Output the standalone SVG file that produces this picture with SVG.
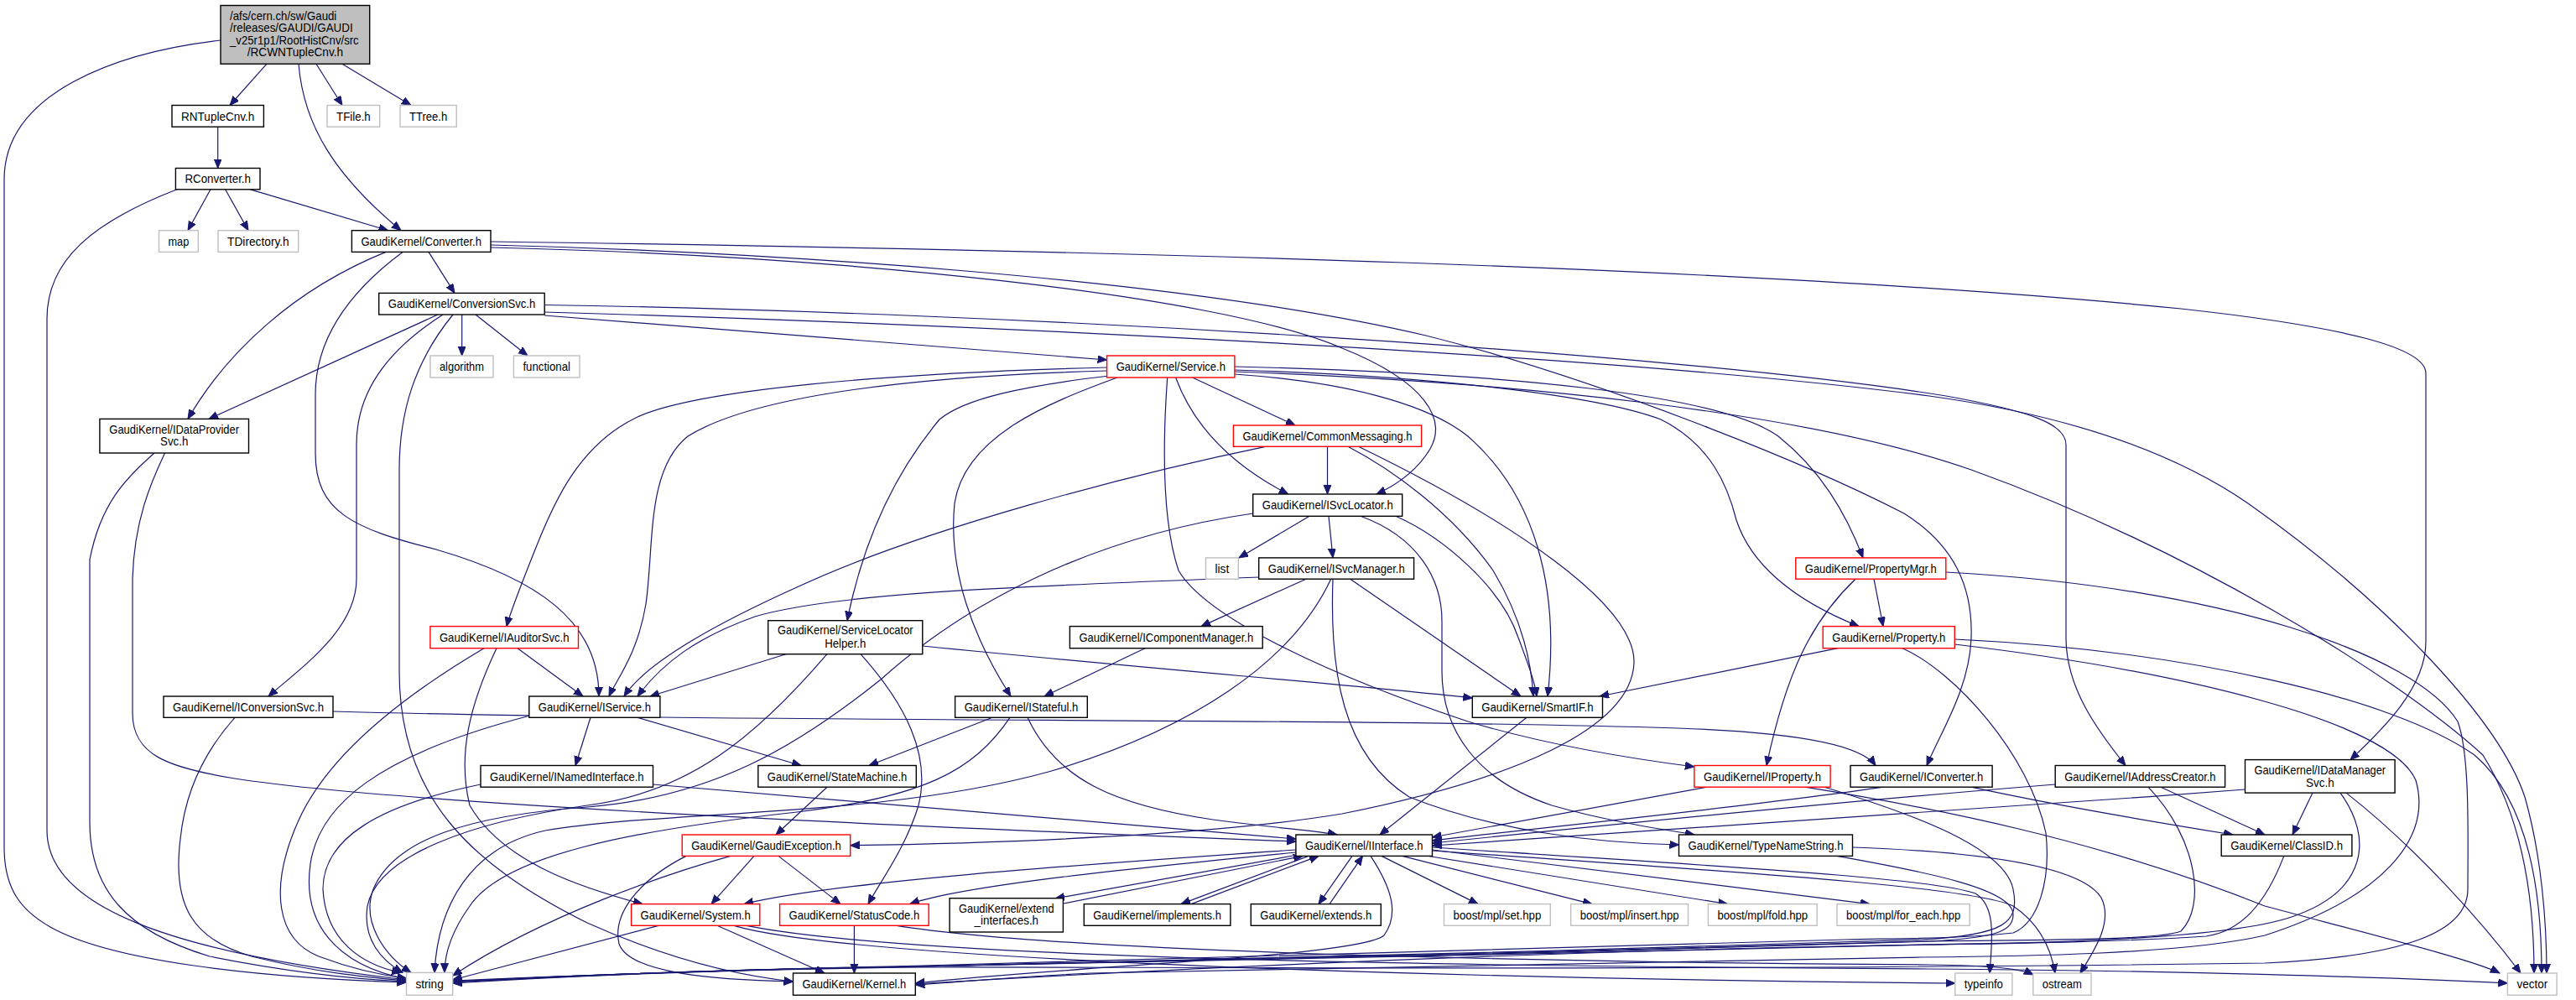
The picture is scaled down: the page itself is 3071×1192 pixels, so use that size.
<svg xmlns="http://www.w3.org/2000/svg" width="3071" height="1192" viewBox="0 0 3071 1192">
<style>
.node rect{fill:#fff;stroke:#000;stroke-width:1.4}
.sys rect{stroke:#bfbfbf}
.red rect{stroke:#f00}
.root rect{fill:#bfbfbf}
text{font-family:"Liberation Sans",Arial,Helvetica,sans-serif;font-size:15px;fill:#000;text-anchor:middle}
text.l{text-anchor:start}
#edges path{fill:none;stroke:#191970;stroke-width:1.2;marker-end:url(#ah)}
</style>
<defs>
<marker id="ah" markerUnits="userSpaceOnUse" markerWidth="12" markerHeight="10" refX="11" refY="4.5" orient="auto"><path d="M0,0 L11,4.5 L0,9 z" fill="#191970" stroke="#191970" stroke-width="1"/></marker>
</defs>
<rect x="0" y="0" width="3071" height="1192" fill="#fff"/>
<g id="edges">
<path d="M263,48 C140,62 5,110 5,214 L5,1010 C5,1060 25,1085 60,1105 C130,1145 300,1165 484.5,1171"/>
<path d="M318,76.2 L274,125.5"/>
<path d="M356,76.2 C362,150 400,210 478,274.7"/>
<path d="M377,76.2 L408,125.5"/>
<path d="M408,76.2 L490,125.5"/>
<path d="M259.7,151.2 L259.7,200.5"/>
<path d="M211,225.8 C110,265 56,310 56,380 L56,990 C56,1080 200,1135 484.5,1168"/>
<path d="M251,225.8 L224,274.7"/>
<path d="M268.6,225.8 L296,274.7"/>
<path d="M298.5,225.8 L462.6,274.7"/>
<path d="M511,300.4 L542,349.4"/>
<path d="M460,300.4 C350,345 270,420 224,499.4"/>
<path d="M480,300.4 C420,345 376,400 376,470 L376,540 C376,610 420,630 520,655 C640,690 714,740 714,830"/>
<path d="M522,375 L249,499.4"/>
<path d="M550.7,375 L550.7,424"/>
<path d="M567,375 L629,424"/>
<path d="M528,375 C458,420 425,470 425,530 L425,690 C425,750 360,795 320,830"/>
<path d="M540,375 C495,430 476,490 476,560 L476,800 C476,950 560,1030 700,1100 C800,1145 880,1163 945.5,1170"/>
<path d="M649.2,363.5 C1200,372 2000,420 2320,472 C2420,490 2463,505 2463,530 L2463,760 C2463,820 2500,870 2534,912.5"/>
<path d="M585,292 C900,300 1400,330 1700,400 C1900,450 2150,550 2270,612 C2330,650 2352,700 2350,760 C2348,820 2315,870 2297,912.5"/>
<path d="M649.2,372 C1100,385 1900,420 2300,472 C2480,497 2600,545 2680,600 C2850,720 2980,860 3010,950 C3030,1020 3036,1100 3036,1160"/>
<path d="M585,288 C1300,298 2100,318 2600,368 C2800,390 2892,415 2892,445 L2892,765 C2892,820 2840,870 2802,905.6"/>
<path d="M585,295 C1000,305 1450,350 1600,415 C1700,455 1725,500 1705,535 C1690,560 1665,578 1641,589"/>
<path d="M649.2,376 L1319.6,429"/>
<path d="M1319.6,438 C1050,445 830,465 760,497 C690,530 660,600 640,650 C620,700 608,730 604,746.6"/>
<path d="M1319.6,442 C1100,448 900,470 820,520 C770,560 780,650 770,720 C760,780 735,810 726,830"/>
<path d="M1322,448 C1220,460 1150,475 1120,500 C1070,560 1030,640 1010,739.7"/>
<path d="M1332,450 C1250,480 1150,520 1138,600 C1130,680 1160,760 1205,830"/>
<path d="M1391.7,450 C1386,530 1385,620 1405,680 C1440,740 1600,810 1750,860 C1850,890 1950,905 2019.9,914"/>
<path d="M1421.6,450 L1544,507"/>
<path d="M1401.6,450 C1420,500 1460,550 1535.7,589"/>
<path d="M1471.9,446 C1600,455 1700,480 1750,520 C1830,590 1860,700 1845,830"/>
<path d="M1471.9,437 C1800,445 2050,470 2120,520 C2170,560 2200,610 2221,664.9"/>
<path d="M1471.9,441 C1700,448 1900,470 1980,500 C2040,530 2060,580 2070,620 C2090,680 2150,720 2216,746.6"/>
<path d="M1471.9,443 C1800,455 2150,490 2350,560 C2600,650 2850,800 2960,900 C3010,980 3021,1080 3021,1160"/>
<path d="M1582.5,532.3 L1582.5,589"/>
<path d="M1508.7,532.3 C1350,565 1100,630 950,700 C850,745 770,790 744,830"/>
<path d="M1607,532.3 C1660,560 1730,610 1780,680 C1810,730 1825,780 1828,830"/>
<path d="M1619.5,532.3 C1800,620 1950,720 1948,790 C1945,870 1800,930 1600,970 C1450,995 1200,1005 1013.7,1007.7"/>
<path d="M1561,615.3 L1477,664.9"/>
<path d="M1584,615.3 L1589,664.9"/>
<path d="M1664,615.3 C1720,640 1790,700 1810,760 C1825,800 1830,815 1832,830"/>
<path d="M1622,615.3 C1690,640 1719,690 1719,740 L1719,800 C1719,870 1760,930 1850,960 C1920,980 1980,988 2020,995"/>
<path d="M1493.7,612 C1300,640 1150,720 1050,810 C950,890 850,950 700,962 C560,972 470,1000 445,1060 C430,1100 460,1140 490,1159.4"/>
<path d="M1557,690.2 L1432,746.6"/>
<path d="M1500.7,688 C1250,698 1000,705 900,735 C830,760 790,790 760,830"/>
<path d="M1586.7,690.2 C1540,790 1420,870 1250,920 C1050,975 800,965 650,990 C560,1010 522,1080 518,1159.4"/>
<path d="M1589,690.2 C1585,800 1600,900 1680,950 C1780,990 1900,1005 2001.5,1007"/>
<path d="M1609.7,690.2 L1813,830"/>
<path d="M1365,772.7 L1245,830"/>
<path d="M1183,855.3 L1036,912.5"/>
<path d="M1204,855.3 C1160,920 1100,950 950,968 C750,990 600,1020 560,1080 C535,1115 530,1140 530,1159.4"/>
<path d="M1225,855.3 C1260,930 1330,960 1446,977 C1520,987 1570,990 1594,995"/>
<path d="M1820,855.3 L1645,995"/>
<path d="M937,779.7 L775,830"/>
<path d="M986,779.7 C900,880 820,945 700,960 C560,980 450,1020 438,1080 C432,1120 455,1145 480,1159.4"/>
<path d="M1026,779.7 C1080,840 1110,900 1095,960 C1080,1010 1050,1050 1035,1077.6"/>
<path d="M1099.8,770 C1400,800 1600,815 1755.3,832"/>
<path d="M617,772.7 L695,830"/>
<path d="M577,772.7 C480,830 390,900 355,980 C320,1060 330,1120 380,1140 C420,1155 450,1162 484.5,1166"/>
<path d="M592,772.7 C560,840 545,900 560,960 C600,1030 700,1060 766,1077.6"/>
<path d="M280,855.3 C240,900 220,950 215,1000 C205,1080 230,1120 300,1140 C380,1160 440,1165 484.5,1169"/>
<path d="M397,848 C900,862 1600,855 2000,868 C2150,873 2220,890 2236,912.5"/>
<path d="M704,855.3 L686,912.5"/>
<path d="M760,855.3 L955,912.5"/>
<path d="M632,853 C450,900 380,960 370,1030 C360,1100 400,1150 484.5,1167"/>
<path d="M573,935 C450,960 385,1000 385,1060 C388,1120 430,1150 478,1159.4"/>
<path d="M778.5,935 C1100,960 1400,990 1544.9,1000"/>
<path d="M184,540 C150,570 120,600 107,667 L107,980 C107,1060 150,1110 250,1140 C350,1160 420,1167 484.5,1170"/>
<path d="M196.5,540 C180,575 160,620 158,690 L158,850 C158,900 200,915 280,928 C500,962 1200,990 1544.9,1003"/>
<path d="M986,938.2 L925,995"/>
<path d="M899,1020.4 L848,1077.6"/>
<path d="M928,1020.4 L1002,1077.6"/>
<path d="M871,1020.4 C800,1040 650,1090 539.7,1163"/>
<path d="M818,1020.4 C760,1050 730,1090 738,1125 C750,1160 850,1168 945.5,1170"/>
<path d="M785,1103.3 L539.7,1168"/>
<path d="M855,1103.3 L983,1160"/>
<path d="M875,1103.3 C1000,1140 1600,1165 2330.8,1172"/>
<path d="M890,1103.3 C1100,1145 1800,1152 2300,1155 C2600,1157 2850,1165 2989.4,1172"/>
<path d="M1018.4,1103.3 L1018.4,1160"/>
<path d="M1069,1103.3 C1300,1140 2000,1148 2300,1150 C2380,1151 2410,1155 2424,1162"/>
<path d="M1544.9,1013 C1300,1030 1000,1050 887,1077.6"/>
<path d="M1544.9,1016 C1350,1035 1150,1055 1084.7,1077.6"/>
<path d="M1547,1019 L1258,1071"/>
<path d="M1268,1077 L1553,1020.4"/>
<path d="M1560,1020.4 L1408,1077.6"/>
<path d="M1420,1077.6 L1572,1020.4"/>
<path d="M1612,1020.4 L1572,1077.6"/>
<path d="M1585,1077.6 L1624.5,1020.4"/>
<path d="M1647,1020.4 L1762,1077.6"/>
<path d="M1671.7,1020.4 L1898,1077.6"/>
<path d="M1700,1020 L2059.5,1077.6"/>
<path d="M1707.5,1013 L2229,1077.6"/>
<path d="M1707.5,1010 C2000,1030 2300,1045 2355,1065 C2380,1080 2375,1120 2372,1160"/>
<path d="M1707.5,1014 C2000,1035 2350,1055 2400,1080 C2430,1100 2445,1130 2450,1160"/>
<path d="M1634,1020.4 C1660,1060 1668,1090 1650,1115 C1620,1140 1300,1150 1091.3,1172"/>
<path d="M2208.5,1010 C2350,1015 2480,1030 2505,1070 C2520,1100 2495,1135 2480,1160"/>
<path d="M2190,1020.4 C2300,1040 2400,1060 2400,1090 C2400,1110 2380,1118 2300,1122 C1900,1135 1300,1150 1100,1152 C900,1155 700,1162 539.7,1170"/>
<path d="M2035,938.2 L1707.5,998"/>
<path d="M2151.8,938.2 C2300,962 2500,1000 2700,1080 C2850,1120 2950,1145 2980,1160"/>
<path d="M2175,938.2 C2280,970 2390,1010 2400,1060 C2408,1100 2390,1115 2290,1120 C1900,1132 1300,1150 1100,1152 C900,1155 700,1162 539.7,1169"/>
<path d="M2450.2,935 C2200,955 1900,985 1707.5,1005"/>
<path d="M2576,938.2 L2700,995"/>
<path d="M2561,938.2 C2620,1000 2630,1080 2600,1110 C2570,1122 2400,1120 2290,1122 C1900,1133 1300,1150 1100,1152 C900,1155 700,1162 539.7,1170"/>
<path d="M2676.5,941 C2300,970 1900,995 1707.5,1008"/>
<path d="M2757,945.1 L2733,995"/>
<path d="M2797,945.1 C2880,1010 2960,1100 3005,1160"/>
<path d="M2790,945.1 C2830,1000 2820,1060 2740,1090 C2680,1115 2500,1124 2290,1126 C1900,1135 1300,1150 1100,1152 C900,1155 700,1162 539.7,1171"/>
<path d="M2722.8,1020.4 C2700,1080 2670,1110 2630,1116 C2500,1125 2300,1125 2100,1130 C1700,1140 1300,1160 1091.3,1173"/>
<path d="M2245,938.2 C2100,960 1850,985 1707.5,1002"/>
<path d="M2350,938.2 C2450,960 2600,985 2662,995"/>
<path d="M2234,690.2 L2245,746.6"/>
<path d="M2212,690.2 C2160,740 2130,800 2106,912.5"/>
<path d="M2319.8,682 C2650,700 2880,780 2930,860 C2945,900 2942,1000 2942,1060 C2942,1110 2870,1140 2700,1148 C2000,1158 1300,1152 1100,1153 C900,1155 700,1162 539.7,1172"/>
<path d="M2191,772.7 L1907,830"/>
<path d="M2330.3,762 C2600,775 2850,830 2950,900 C3020,960 3030,1080 3030,1160"/>
<path d="M2330.3,768 C2600,800 2850,860 2880,930 C2900,1000 2840,1070 2700,1115 C2600,1138 2400,1140 2290,1141 L1300,1160 C1200,1165 1150,1170 1091.3,1174"/>
<path d="M2268,772.7 C2330,800 2420,900 2439,993 C2445,1050 2430,1100 2400,1112 C2350,1118 2300,1118 2200,1120 L1100,1151 C900,1155 700,1162 539.7,1170"/>
</g>
<g id="n-root" class="node root"><rect x="263" y="6.5" width="177.7" height="69.7"/><text class="l" x="274" y="23.6" textLength="127.3" lengthAdjust="spacingAndGlyphs">/afs/cern.ch/sw/Gaudi</text><text class="l" x="274" y="38.1" textLength="146.7" lengthAdjust="spacingAndGlyphs">/releases/GAUDI/GAUDI</text><text class="l" x="274" y="52.6" textLength="153.7" lengthAdjust="spacingAndGlyphs">_v25r1p1/RootHistCnv/src</text><text x="351.9" y="67.2" textLength="114.4" lengthAdjust="spacingAndGlyphs">/RCWNTupleCnv.h</text></g>
<g id="n-RNTupleCnv" class="node"><rect x="205" y="125.5" width="109.4" height="25.7"/><text x="259.7" y="143.6" textLength="87.4" lengthAdjust="spacingAndGlyphs">RNTupleCnv.h</text></g>
<g id="n-TFile" class="node sys"><rect x="390" y="125.5" width="62.7" height="25.7"/><text x="421.4" y="143.6" textLength="40.7" lengthAdjust="spacingAndGlyphs">TFile.h</text></g>
<g id="n-TTree" class="node sys"><rect x="477" y="125.5" width="67.2" height="25.7"/><text x="510.6" y="143.6" textLength="45.2" lengthAdjust="spacingAndGlyphs">TTree.h</text></g>
<g id="n-RConverter" class="node"><rect x="209.4" y="200.5" width="100.6" height="25.3"/><text x="259.7" y="218.4" textLength="78.6" lengthAdjust="spacingAndGlyphs">RConverter.h</text></g>
<g id="n-map" class="node sys"><rect x="189.5" y="274.7" width="46.8" height="25.7"/><text x="212.9" y="292.8" textLength="24.8" lengthAdjust="spacingAndGlyphs">map</text></g>
<g id="n-TDirectory" class="node sys"><rect x="260" y="274.7" width="95.7" height="25.7"/><text x="307.9" y="292.8" textLength="73.7" lengthAdjust="spacingAndGlyphs">TDirectory.h</text></g>
<g id="n-Converter" class="node"><rect x="419.4" y="274.7" width="165.6" height="25.7"/><text x="502.2" y="292.8" textLength="143.6" lengthAdjust="spacingAndGlyphs">GaudiKernel/Converter.h</text></g>
<g id="n-ConversionSvc" class="node"><rect x="451.7" y="349.4" width="197.5" height="25.6"/><text x="550.5" y="367.4" textLength="175.5" lengthAdjust="spacingAndGlyphs">GaudiKernel/ConversionSvc.h</text></g>
<g id="n-algorithm" class="node sys"><rect x="512.9" y="424" width="75.1" height="26"/><text x="550.5" y="442.2" textLength="53.1" lengthAdjust="spacingAndGlyphs">algorithm</text></g>
<g id="n-functional" class="node sys"><rect x="612.4" y="424" width="78.6" height="26"/><text x="651.7" y="442.2" textLength="56.6" lengthAdjust="spacingAndGlyphs">functional</text></g>
<g id="n-Service" class="node red"><rect x="1319.6" y="424" width="152.3" height="26"/><text x="1395.8" y="442.2" textLength="130.3" lengthAdjust="spacingAndGlyphs">GaudiKernel/Service.h</text></g>
<g id="n-IDataProviderSvc" class="node"><rect x="118.9" y="499.4" width="177.6" height="40.6"/><text x="207.7" y="516.8" textLength="154.7" lengthAdjust="spacingAndGlyphs">GaudiKernel/IDataProvider</text><text x="207.7" y="531.2" textLength="33.3" lengthAdjust="spacingAndGlyphs">Svc.h</text></g>
<g id="n-CommonMessaging" class="node red"><rect x="1470.4" y="507" width="224.2" height="25.3"/><text x="1582.5" y="524.9" textLength="202.2" lengthAdjust="spacingAndGlyphs">GaudiKernel/CommonMessaging.h</text></g>
<g id="n-ISvcLocator" class="node"><rect x="1493.7" y="589" width="178" height="26.3"/><text x="1582.7" y="607.4" textLength="156" lengthAdjust="spacingAndGlyphs">GaudiKernel/ISvcLocator.h</text></g>
<g id="n-list" class="node sys"><rect x="1437.5" y="664.9" width="38.8" height="25.3"/><text x="1456.9" y="682.8" textLength="16.8" lengthAdjust="spacingAndGlyphs">list</text></g>
<g id="n-ISvcManager" class="node"><rect x="1500.7" y="664.9" width="184.9" height="25.3"/><text x="1593.2" y="682.8" textLength="162.9" lengthAdjust="spacingAndGlyphs">GaudiKernel/ISvcManager.h</text></g>
<g id="n-PropertyMgr" class="node red"><rect x="2140.8" y="664.9" width="179" height="25.3"/><text x="2230.3" y="682.8" textLength="157" lengthAdjust="spacingAndGlyphs">GaudiKernel/PropertyMgr.h</text></g>
<g id="n-IAuditorSvc" class="node red"><rect x="512.9" y="746.6" width="176.6" height="26.1"/><text x="601.2" y="764.9" textLength="154.6" lengthAdjust="spacingAndGlyphs">GaudiKernel/IAuditorSvc.h</text></g>
<g id="n-ServiceLocatorHelper" class="node"><rect x="915.7" y="739.7" width="184.1" height="40"/><text x="1007.8" y="756.2" textLength="161.7" lengthAdjust="spacingAndGlyphs">GaudiKernel/ServiceLocator</text><text x="1007.8" y="771.8" textLength="49.2" lengthAdjust="spacingAndGlyphs">Helper.h</text></g>
<g id="n-IComponentManager" class="node"><rect x="1275.4" y="746.6" width="229.8" height="26.1"/><text x="1390.3" y="764.9" textLength="207.8" lengthAdjust="spacingAndGlyphs">GaudiKernel/IComponentManager.h</text></g>
<g id="n-Property" class="node red"><rect x="2173.2" y="746.6" width="157.1" height="26.1"/><text x="2251.8" y="764.9" textLength="135.1" lengthAdjust="spacingAndGlyphs">GaudiKernel/Property.h</text></g>
<g id="n-IConversionSvc" class="node"><rect x="195" y="830" width="202" height="25.3"/><text x="296" y="847.9" textLength="180" lengthAdjust="spacingAndGlyphs">GaudiKernel/IConversionSvc.h</text></g>
<g id="n-IService" class="node"><rect x="630.8" y="830" width="156.1" height="25.3"/><text x="708.9" y="847.9" textLength="134.1" lengthAdjust="spacingAndGlyphs">GaudiKernel/IService.h</text></g>
<g id="n-IStateful" class="node"><rect x="1138.6" y="830" width="157.7" height="25.3"/><text x="1217.5" y="847.9" textLength="135.7" lengthAdjust="spacingAndGlyphs">GaudiKernel/IStateful.h</text></g>
<g id="n-SmartIF" class="node"><rect x="1755.3" y="830" width="155.2" height="25.3"/><text x="1832.9" y="847.9" textLength="133.2" lengthAdjust="spacingAndGlyphs">GaudiKernel/SmartIF.h</text></g>
<g id="n-INamedInterface" class="node"><rect x="573" y="912.5" width="205.5" height="25.7"/><text x="675.8" y="930.6" textLength="183.5" lengthAdjust="spacingAndGlyphs">GaudiKernel/INamedInterface.h</text></g>
<g id="n-StateMachine" class="node"><rect x="903.8" y="912.5" width="188.5" height="25.7"/><text x="998.1" y="930.6" textLength="166.5" lengthAdjust="spacingAndGlyphs">GaudiKernel/StateMachine.h</text></g>
<g id="n-IProperty" class="node red"><rect x="2019.9" y="912.5" width="162.2" height="25.7"/><text x="2101" y="930.6" textLength="140.2" lengthAdjust="spacingAndGlyphs">GaudiKernel/IProperty.h</text></g>
<g id="n-IConverter" class="node"><rect x="2206" y="912.5" width="169.1" height="25.7"/><text x="2290.6" y="930.6" textLength="147.1" lengthAdjust="spacingAndGlyphs">GaudiKernel/IConverter.h</text></g>
<g id="n-IAddressCreator" class="node"><rect x="2450.2" y="912.5" width="202.4" height="25.7"/><text x="2551.4" y="930.6" textLength="180.4" lengthAdjust="spacingAndGlyphs">GaudiKernel/IAddressCreator.h</text></g>
<g id="n-IDataManagerSvc" class="node"><rect x="2676.5" y="905.6" width="178.6" height="39.5"/><text x="2765.8" y="923.2" textLength="156.7" lengthAdjust="spacingAndGlyphs">GaudiKernel/IDataManager</text><text x="2765.8" y="937.9" textLength="33.8" lengthAdjust="spacingAndGlyphs">Svc.h</text></g>
<g id="n-GaudiException" class="node red"><rect x="813.2" y="995" width="200.5" height="25.4"/><text x="913.5" y="1012.9" textLength="178.5" lengthAdjust="spacingAndGlyphs">GaudiKernel/GaudiException.h</text></g>
<g id="n-IInterface" class="node"><rect x="1544.9" y="995" width="162.6" height="25.4"/><text x="1626.2" y="1012.9" textLength="140.6" lengthAdjust="spacingAndGlyphs">GaudiKernel/IInterface.h</text></g>
<g id="n-TypeNameString" class="node"><rect x="2001.5" y="995" width="207" height="25.4"/><text x="2105" y="1012.9" textLength="185" lengthAdjust="spacingAndGlyphs">GaudiKernel/TypeNameString.h</text></g>
<g id="n-ClassID" class="node"><rect x="2648.2" y="995" width="155.7" height="25.4"/><text x="2726.1" y="1012.9" textLength="133.7" lengthAdjust="spacingAndGlyphs">GaudiKernel/ClassID.h</text></g>
<g id="n-System" class="node red"><rect x="752.6" y="1077.6" width="153.2" height="25.7"/><text x="829.2" y="1095.7" textLength="131.2" lengthAdjust="spacingAndGlyphs">GaudiKernel/System.h</text></g>
<g id="n-StatusCode" class="node red"><rect x="929.6" y="1077.6" width="177.6" height="25.7"/><text x="1018.4" y="1095.7" textLength="155.6" lengthAdjust="spacingAndGlyphs">GaudiKernel/StatusCode.h</text></g>
<g id="n-extend_interfaces" class="node"><rect x="1132.1" y="1070.7" width="135.3" height="40.3"/><text x="1199.8" y="1087.9" textLength="113.5" lengthAdjust="spacingAndGlyphs">GaudiKernel/extend</text><text x="1199.8" y="1101.9" textLength="76.5" lengthAdjust="spacingAndGlyphs">_interfaces.h</text></g>
<g id="n-implements" class="node"><rect x="1292.3" y="1077.6" width="174.6" height="25.7"/><text x="1379.6" y="1095.7" textLength="152.6" lengthAdjust="spacingAndGlyphs">GaudiKernel/implements.h</text></g>
<g id="n-extends" class="node"><rect x="1491.3" y="1077.6" width="155" height="25.7"/><text x="1568.8" y="1095.7" textLength="133" lengthAdjust="spacingAndGlyphs">GaudiKernel/extends.h</text></g>
<g id="n-mpl_set" class="node sys"><rect x="1721.5" y="1077.6" width="126.8" height="25.7"/><text x="1784.9" y="1095.7" textLength="104.8" lengthAdjust="spacingAndGlyphs">boost/mpl/set.hpp</text></g>
<g id="n-mpl_insert" class="node sys"><rect x="1872.7" y="1077.6" width="139.8" height="25.7"/><text x="1942.6" y="1095.7" textLength="117.8" lengthAdjust="spacingAndGlyphs">boost/mpl/insert.hpp</text></g>
<g id="n-mpl_fold" class="node sys"><rect x="2036.4" y="1077.6" width="129.8" height="25.7"/><text x="2101.3" y="1095.7" textLength="107.8" lengthAdjust="spacingAndGlyphs">boost/mpl/fold.hpp</text></g>
<g id="n-mpl_for_each" class="node sys"><rect x="2190" y="1077.6" width="158.2" height="25.7"/><text x="2269.1" y="1095.7" textLength="136.2" lengthAdjust="spacingAndGlyphs">boost/mpl/for_each.hpp</text></g>
<g id="n-string" class="node sys"><rect x="484.5" y="1159.4" width="55.2" height="26.8"/><text x="512.1" y="1178" textLength="33.2" lengthAdjust="spacingAndGlyphs">string</text></g>
<g id="n-Kernel" class="node"><rect x="945.5" y="1160" width="145.8" height="26.2"/><text x="1018.4" y="1178.3" textLength="123.8" lengthAdjust="spacingAndGlyphs">GaudiKernel/Kernel.h</text></g>
<g id="n-typeinfo" class="node sys"><rect x="2330.8" y="1160" width="68.1" height="26.2"/><text x="2364.9" y="1178.3" textLength="46.1" lengthAdjust="spacingAndGlyphs">typeinfo</text></g>
<g id="n-ostream" class="node sys"><rect x="2423.8" y="1160" width="69.2" height="26.2"/><text x="2458.4" y="1178.3" textLength="47.2" lengthAdjust="spacingAndGlyphs">ostream</text></g>
<g id="n-vector" class="node sys"><rect x="2989.4" y="1160" width="58.7" height="26.2"/><text x="3018.8" y="1178.3" textLength="36.7" lengthAdjust="spacingAndGlyphs">vector</text></g>
</svg>
